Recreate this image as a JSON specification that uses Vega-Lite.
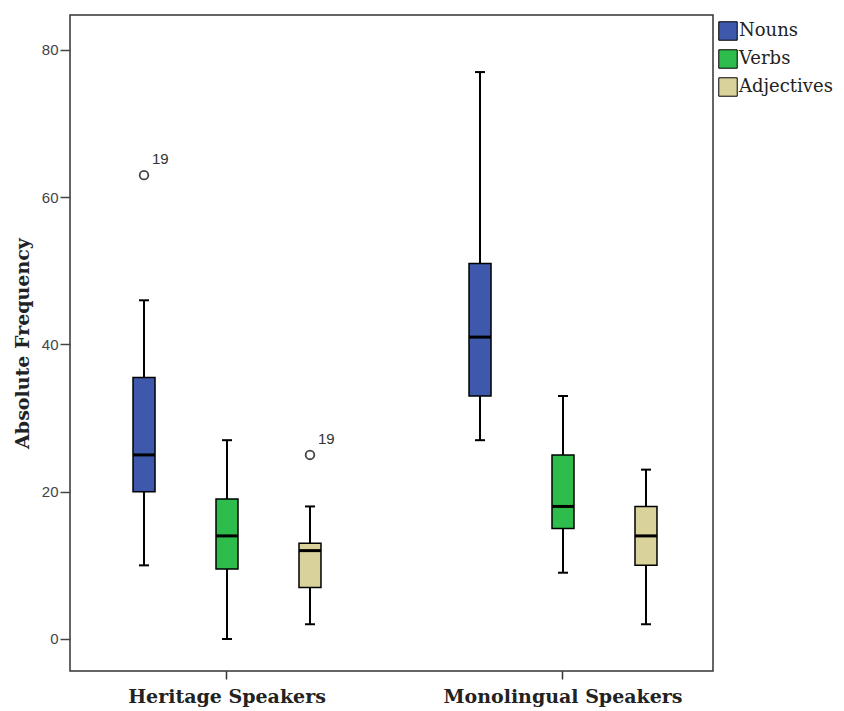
{
  "$schema": "https://vega.github.io/schema/vega-lite/v6.json",
  "width": 643,
  "height": 656,
  "autosize": "none",
  "padding": {"left": 70, "top": 15, "right": 131, "bottom": 40},
  "background": "white",
  "config": {"view": {"stroke": "#333", "strokeWidth": 1.5}},
  "datasets": {
    "boxes": [
      {"group": "Heritage Speakers", "category": "Nouns", "min": 10, "q1": 20, "median": 25, "q3": 35.5, "max": 46},
      {"group": "Heritage Speakers", "category": "Verbs", "min": 0, "q1": 9.5, "median": 14, "q3": 19, "max": 27},
      {"group": "Heritage Speakers", "category": "Adjectives", "min": 2, "q1": 7, "median": 12, "q3": 13, "max": 18},
      {"group": "Monolingual Speakers", "category": "Nouns", "min": 27, "q1": 33, "median": 41, "q3": 51, "max": 77},
      {"group": "Monolingual Speakers", "category": "Verbs", "min": 9, "q1": 15, "median": 18, "q3": 25, "max": 33},
      {"group": "Monolingual Speakers", "category": "Adjectives", "min": 2, "q1": 10, "median": 14, "q3": 18, "max": 23}
    ],
    "outliers": [
      {"group": "Heritage Speakers", "category": "Nouns", "value": 63, "label": "19"},
      {"group": "Heritage Speakers", "category": "Adjectives", "value": 25, "label": "19"}
    ]
  },
  "encoding": {
    "x": {
      "field": "group", "type": "nominal",
      "sort": ["Heritage Speakers", "Monolingual Speakers"],
      "scale": {"range": [22.6, 627.4], "paddingInner": 0.2, "paddingOuter": 0},
      "axis": {"title": null, "labelAngle": 0, "labelLimit": 0, "labelFont": "DejaVu Serif", "labelFontSize": 19, "labelFontWeight": "bold", "labelColor": "#222", "tickSize": 8, "tickColor": "#333", "tickWidth": 1.5, "domain": false, "labelPadding": 8}
    },
    "xOffset": {
      "field": "category", "type": "nominal",
      "sort": ["Nouns", "Verbs", "Adjectives"],
      "scale": {"paddingInner": 0.735, "paddingOuter": 0.487}
    }
  },
  "layer": [
    {
      "data": {"name": "boxes"},
      "mark": {"type": "rule", "color": "black", "strokeWidth": 2},
      "encoding": {
        "y": {"field": "min", "type": "quantitative", "title": "Absolute Frequency",
          "scale": {"domain": [-4.35, 84.75], "nice": false, "zero": false},
          "axis": {"values": [0, 20, 40, 60, 80], "grid": false, "domain": false, "tickColor": "#444", "tickSize": 10, "tickWidth": 1.5, "labelFont": "Liberation Sans", "labelFontSize": 15, "labelColor": "#444", "labelPadding": 2, "titleFont": "DejaVu Serif", "titleFontSize": 19, "titleFontWeight": "bold", "titleColor": "#222", "titlePadding": 9}},
        "y2": {"field": "max"}
      }
    },
    {
      "data": {"name": "boxes"},
      "mark": {"type": "bar", "stroke": "black", "strokeWidth": 1.5},
      "encoding": {
        "y": {"field": "q1", "type": "quantitative", "title": "Absolute Frequency"},
        "y2": {"field": "q3"},
        "fill": {
          "field": "category", "type": "nominal",
          "sort": ["Nouns", "Verbs", "Adjectives"],
          "scale": {"domain": ["Nouns", "Verbs", "Adjectives"], "range": ["#3E59AB", "#2EBC4C", "#D9D39B"]},
          "legend": {"orient": "none", "legendX": 648, "legendY": 6, "title": null, "padding": 0, "symbolType": "square", "symbolSize": 340, "symbolStrokeColor": "black", "symbolStrokeWidth": 1, "labelFont": "DejaVu Serif", "labelFontSize": 18, "labelColor": "#222", "rowPadding": 4, "labelOffset": 1}
        }
      }
    },
    {
      "data": {"name": "boxes"},
      "mark": {"type": "tick", "color": "black", "size": 22, "thickness": 3, "opacity": 1},
      "encoding": {"y": {"field": "median", "type": "quantitative", "title": "Absolute Frequency"}}
    },
    {
      "data": {"name": "boxes"},
      "mark": {"type": "tick", "color": "black", "size": 10, "thickness": 2, "opacity": 1},
      "encoding": {"y": {"field": "min", "type": "quantitative", "title": "Absolute Frequency"}}
    },
    {
      "data": {"name": "boxes"},
      "mark": {"type": "tick", "color": "black", "size": 10, "thickness": 2, "opacity": 1},
      "encoding": {"y": {"field": "max", "type": "quantitative", "title": "Absolute Frequency"}}
    },
    {
      "data": {"name": "outliers"},
      "mark": {"type": "point", "shape": "circle", "filled": false, "stroke": "#444", "strokeWidth": 1.8, "size": 75, "opacity": 1},
      "encoding": {"y": {"field": "value", "type": "quantitative", "title": "Absolute Frequency"}}
    },
    {
      "data": {"name": "outliers"},
      "mark": {"type": "text", "font": "Liberation Sans", "fontSize": 15, "color": "#333", "dx": 8, "dy": -16, "align": "left"},
      "encoding": {
        "y": {"field": "value", "type": "quantitative", "title": "Absolute Frequency"},
        "text": {"field": "label"}
      }
    }
  ]
}
